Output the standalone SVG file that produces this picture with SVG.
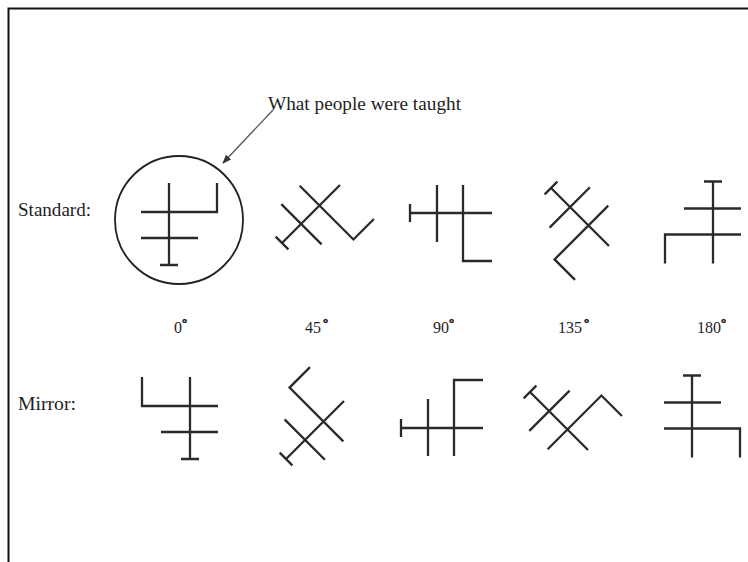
<svg xmlns="http://www.w3.org/2000/svg" xmlns:xlink="http://www.w3.org/1999/xlink" width="748" height="562" viewBox="0 0 748 562">
<style>
.g{fill:none;stroke:#2a2a2a;stroke-width:2.3;stroke-linecap:butt;stroke-linejoin:miter}
.t{font-family:"Liberation Serif","Times New Roman",serif;fill:#1e1e1e}
.deg{font-size:13px;font-weight:bold;stroke:#1e1e1e;stroke-width:0.6}
.conn{fill:none;stroke:#555;stroke-width:1.3}
</style>
<defs>
<g id="base"><path class="g" d="M0,-41V41M-9,41H9M-28,-12H48V-41M-28,14H29"/></g>
<g id="mir"><use xlink:href="#base" transform="scale(-1,1)"/></g>
<marker id="ah" viewBox="0 0 10 10" refX="9" refY="5" markerWidth="9" markerHeight="9" markerUnits="userSpaceOnUse" orient="auto">
<path d="M0,1L10,5L0,9z" fill="#333"/>
</marker>
</defs>
<rect width="748" height="562" fill="#fff"/>
<path d="M8.5,562V8.5H748" fill="none" stroke="#111" stroke-width="2"/>
<text class="t" x="268" y="110" font-size="18" textLength="193" lengthAdjust="spacingAndGlyphs">What people were taught</text>
<text class="t" x="18" y="216" font-size="18" textLength="73" lengthAdjust="spacingAndGlyphs">Standard:</text>
<text class="t" x="18" y="410" font-size="18" textLength="58" lengthAdjust="spacingAndGlyphs">Mirror:</text>
<g id="labels" class="t" font-size="16">
<text x="174" y="333">0<tspan class="deg" dy="-6">°</tspan></text>
<text x="305" y="333">45<tspan class="deg" dx="2" dy="-6">°</tspan></text>
<text x="433" y="333">90<tspan class="deg" dy="-6">°</tspan></text>
<text x="558" y="333">135<tspan class="deg" dx="2" dy="-6">°</tspan></text>
<text x="697" y="333">180<tspan class="deg" dy="-6">°</tspan></text>
</g>
<g id="highlight"><circle cx="179" cy="220" r="64" fill="none" stroke="#222" stroke-width="1.8"/></g>
<g id="connectors"><line class="conn" x1="273" y1="110" x2="223" y2="163" marker-end="url(#ah)"/></g>
<g id="std0"><use xlink:href="#base" transform="translate(169,224)"/></g>
<g id="std45"><use xlink:href="#base" transform="translate(311,214) rotate(45)"/></g>
<g id="std90"><use xlink:href="#base" transform="translate(451,213) rotate(90)"/></g>
<g id="std135"><use xlink:href="#base" transform="translate(580,217) rotate(135)"/></g>
<g id="std180"><use xlink:href="#base" transform="translate(713,222.5) rotate(180)"/></g>
<g id="mir0"><use xlink:href="#mir" transform="translate(190,418)"/></g>
<g id="mir45"><use xlink:href="#mir" transform="translate(315,430) rotate(45)"/></g>
<g id="mir90"><use xlink:href="#mir" transform="translate(442,428) rotate(90)"/></g>
<g id="mir135"><use xlink:href="#mir" transform="translate(559,421) rotate(135)"/></g>
<g id="mir180"><use xlink:href="#mir" transform="translate(692,416.5) rotate(180)"/></g>
</svg>
